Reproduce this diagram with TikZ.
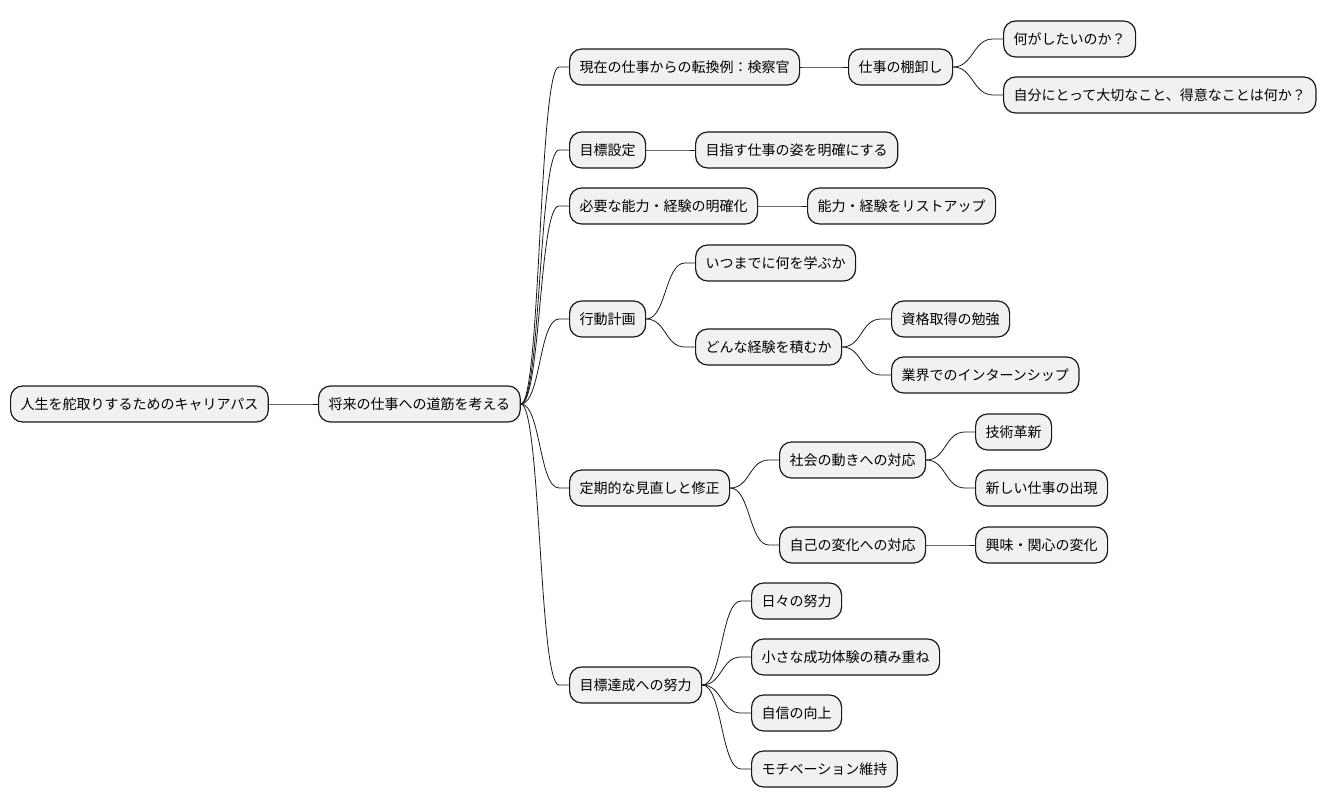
\documentclass[tikz,border=0pt]{standalone}
\usepackage{fontspec}
\setmainfont{Noto Sans CJK JP}
\usepackage{xcolor}
\usepackage{tikz}
\definecolor{boxfill}{HTML}{F1F1F1}
\definecolor{ink}{HTML}{181818}
\tikzset{topic/.style={draw=ink,fill=boxfill,line width=0.9pt,rounded corners=9pt,anchor=west,
    minimum height=27pt,inner xsep=7.5pt,inner ysep=0pt,font=\fontsize{10.5pt}{12pt}\selectfont},
  edge/.style={draw=ink,line width=0.6pt}}
\newcommand{\branch}[2]{\draw[edge] (#1.east) .. controls +(20,0) and +(-20,0) .. ([xshift=-7.5pt]#2.west) -- (#2.west);}

\begin{document}
\begin{tikzpicture}[x=0.75pt,y=-0.75pt]
  \useasboundingbox (0,0) rectangle (1328,809);
  \foreach \n/\x/\y/\t in {root/10/404/人生を舵取りするためのキャリアパス, way/318/404/将来の仕事への道筋を考える,
      shift/569/67/現在の仕事からの転換例：検察官, stock/848/67/仕事の棚卸し,
      want/1003/39/何がしたいのか？, value/1003/95/自分にとって大切なこと、得意なことは何か？,
      goal/569/150/目標設定, image/695/150/目指す仕事の姿を明確にする,
      skill/569/206/必要な能力・経験の明確化, list/807/206/能力・経験をリストアップ,
      plan/569/319/行動計画, learn/695/263/いつまでに何を学ぶか, exper/695/347/どんな経験を積むか,
      cert/891/319/資格取得の勉強, intern/891/375/業界でのインターンシップ,
      review/569/488/定期的な見直しと修正, society/779/460/社会の動きへの対応,
      tech/975/432/技術革新, newjob/975/488/新しい仕事の出現,
      self/779/545/自己の変化への対応, interest/975/545/興味・関心の変化,
      effort/569/685/目標達成への努力, daily/751/601/日々の努力, small/751/657/小さな成功体験の積み重ね,
      conf/751/713/自信の向上, motiv/751/769/モチベーション維持}
    \node[topic] (\n) at (\x,\y) {\t};
  \foreach \a/\b in {root/way, way/shift, way/goal, way/skill, way/plan, way/review, way/effort,
      shift/stock, stock/want, stock/value, goal/image, skill/list,
      plan/learn, plan/exper, exper/cert, exper/intern,
      review/society, review/self, society/tech, society/newjob, self/interest,
      effort/daily, effort/small, effort/conf, effort/motiv}
    {\branch{\a}{\b}}
\end{tikzpicture}
\end{document}
